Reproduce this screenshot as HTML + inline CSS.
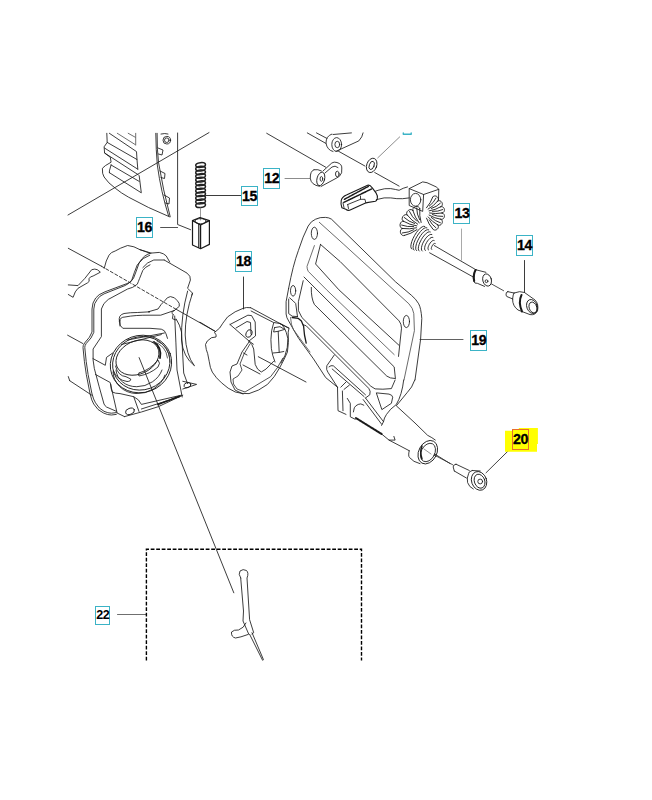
<!DOCTYPE html>
<html><head><meta charset="utf-8">
<style>
html,body{margin:0;padding:0;background:#fff;width:652px;height:800px;overflow:hidden}
svg{position:absolute;left:0;top:0}
.lb{position:absolute;box-sizing:border-box;border:1.5px solid #3bb3c6;background:#fff;font-family:"Liberation Sans",sans-serif;font-weight:bold;font-size:14.2px;line-height:18.5px;text-align:center;color:#000;letter-spacing:-0.4px;-webkit-text-stroke:0.3px #000}
</style></head><body>
<svg width="652" height="800" viewBox="0 0 652 800">
<g fill="none" stroke="#1a1a1a" stroke-width="0.85" stroke-linejoin="round" stroke-linecap="round">
<!-- top-left fins -->
<path d="M68,215 L209,132.6"/>
<path d="M177.6,133 L177.6,224.5 L190.6,229.7"/>
<path d="M106.8,133.3 L107.2,142.4 L104.1,146.8 L104.6,153 L110.3,157.3 L111.1,162.2 Q104,166 102.4,168.3 Q102,174 104.1,177 Q108,183 115.5,188.4 Q121,193 128.6,197.2 Q148,208 169.5,216.8"/>
<path d="M109.4,133.3 L136.5,151.6 L137,159.5 M107.2,142.4 L137,159.5 L137.8,169.2 M104.6,148.1 L137.8,169.2 M104.6,153 L138.3,174.8"/>
<path d="M117.3,133.3 L135.2,144.6 M128.2,133.3 L135.2,137.2 M135.7,133.3 L135.7,145" stroke="#555"/>
<path d="M111.1,164.8 L109.4,170.9 L109.4,172.7 M111.1,165 L139.2,181.4 M109.4,172.7 L141.3,192.8 L139.2,175.7"/>
<path d="M157.1,133.3 Q157,150 158.5,162.3 Q163,190 170.2,216.8"/>
<path d="M155.8,133.3 Q156,150 157.3,165 Q161,192 168.6,216"/>
<circle cx="166.8" cy="140.2" r="3.8"/>
<circle cx="166.8" cy="140.2" r="2.3"/>
<path d="M161,134 Q165,133 168,134"/>
<path d="M158,148 L163,150 L162,155 L158.5,154 M160,171 L165,173.5 L164.5,178.5 L161,177.5 M164,195 L169.5,198 L169,204 L165.5,203"/>
<!-- label leader lines -->
<path d="M160.6,227.5 L177.6,227.5" stroke="#333"/>
<path d="M205.5,195.5 L241,195.5"/>
<path d="M285,178.5 L310,178.5" stroke="#777"/>
<path d="M243.5,277 L243.5,309"/>
<path d="M461.5,229 L461.5,260" stroke="#999"/>
<path d="M524.5,260.5 L524.5,292.5"/>
<path d="M420,339.5 L463,339.5" stroke="#444"/>
<path d="M486,472.8 L508.8,450.3" stroke="#222"/>
<path d="M117.5,614.5 L146.3,614.5" stroke="#555"/>
<path d="M377.7,157.9 L399.7,136.9" stroke="#777"/>
<!-- top link -->
<path d="M307.3,132.9 L325.7,143.3 M316.5,132.9 L326.9,138.4"/>
<path d="M331.8,134.1 Q326,136 326,143 Q327,150 333,151.5"/>
<ellipse cx="336.7" cy="144.5" rx="4.9" ry="6.9"/>
<ellipse cx="337.3" cy="144.5" rx="2.4" ry="3.2"/>
<path d="M333,134.5 L351.4,132.9 M336,151.3 L358.8,140.9 Q362.5,137 363.1,132.9"/>
<path d="M338.6,151.3 L364.9,166"/>
<ellipse cx="371.7" cy="165.4" rx="5" ry="7.4" transform="rotate(20 371.7 165.4)"/>
<ellipse cx="371.7" cy="165.4" rx="2.4" ry="4.3" transform="rotate(20 371.7 165.4)"/>
<path d="M374.7,172.5 L399.1,186.1"/>
<!-- partial label top -->
<path d="M403.3,133 L403.3,134.3 L411.2,134.3 L411.2,133" stroke="#3bb3c6" stroke-width="1.4"/>
<!-- part 12 -->
<path d="M266.7,133.3 L325.7,167.2"/>
<path d="M314,169.7 Q310,171 310.3,178.3 Q311,185 319.5,186.3"/>
<path d="M314,169.7 Q318,169 321.4,170.9"/>
<ellipse cx="320.8" cy="178.9" rx="3.8" ry="6.9" transform="rotate(15 320.8 178.9)"/>
<ellipse cx="321.4" cy="178.9" rx="1.3" ry="2.4"/>
<path d="M323,171 L331.8,163 Q334,161.5 337,162.5 Q342,164 341.8,168 L341.6,172.8 Q340,177 336.1,178.3 L321,186.5"/>
<path d="M325,173 L332,167 Q335,165 338,167.5"/>
<ellipse cx="337.3" cy="174" rx="1.8" ry="2.8"/>
<!-- pedal -->
<path d="M341.2,200.6 Q342,197 346.4,195.1 L367.6,185.2 Q370,184.5 372.1,187.7 L376,192.9 Q378,196 377.3,198.7 Q376.5,201 375.4,201.3 L367,202.6 L365,203.2 L349.6,210.3 Q347,210.5 346.4,209.6 L341.9,207.7 Q340.5,204 341.2,200.6 Z" stroke-width="1.1"/>
<path d="M344.4,199.3 L368.3,186.4 M343.8,202.4 L371.5,189" stroke-width="1.5" stroke-dasharray="1.1 0.7"/>
<path d="M347.7,204.5 L360.5,199.3 L360.5,196.1 M360.5,199.3 L365,199.3 L365.7,202.6 M347.7,204.5 L348.5,208.5 M343,203 L344,207.5"/>
<path d="M375.5,191.2 L378,190.3 Q385,188 390.7,188.6 Q396,189.5 399.1,190.3 Q403,188 407.5,186.9"/>
<path d="M376.3,199.6 Q385,197 390.7,197.9 Q397,199 402.5,198.7 L409.2,197.9"/>
<!-- block -->
<path d="M409.2,188.6 L409.2,205.5 L422.7,211.4 L423.6,194.5 L409.2,188.6 L422.7,181.9 L427,182.7 L436.2,186.9 L438.8,189.3 L423.6,194.5"/>
<path d="M438.8,189.3 L438.5,200"/>
<ellipse cx="415.6" cy="199.8" rx="5.2" ry="6.4"/>
<!-- boot -->
<g stroke-width="0.9">
<path d="M426.5,207.8 Q430.7,203.0 432.8,197.0 M428.1,209.1 Q433.7,206.1 437.7,201.1 M429.1,210.9 Q435.4,210.0 440.9,206.7 M429.5,213.0 Q435.8,214.2 442.0,213.0 M429.1,215.1 Q434.6,218.4 440.9,219.3 M428.1,216.9 Q432.1,221.8 437.7,224.9 M426.5,218.2 Q428.5,224.2 432.8,229.0 M432.8,197.0 C435.1,193.5 440.6,198.2 437.7,201.1 M437.7,201.1 C441.0,198.7 444.7,205.0 440.9,206.7 M440.9,206.7 C444.9,205.6 446.1,212.7 442.0,213.0 M442.0,213.0 C446.1,213.3 444.9,220.4 440.9,219.3 M440.9,219.3 C444.7,221.0 441.0,227.3 437.7,224.9 M437.7,224.9 C440.6,227.8 435.1,232.5 432.8,229.0 M429.3,206.1 Q433.6,202.9 436.0,198.1 M431.3,208.5 Q436.5,207.0 440.4,203.2 M432.4,211.4 Q437.8,211.8 442.7,209.6 M432.4,214.6 Q437.3,216.7 442.7,216.4 M431.3,217.5 Q435.2,221.2 440.4,222.8 M429.3,219.9 Q431.7,224.7 436.0,227.9 "/>
<path d="M421.1,222.5 Q419.1,215.7 419.8,208.6 M419.2,223.0 Q414.8,217.4 412.9,210.6 M417.7,224.2 Q411.5,220.7 407.2,215.0 M416.8,225.9 Q409.7,224.9 403.5,221.3 M416.5,227.8 Q409.6,229.5 402.5,228.5 M417.0,229.6 Q411.2,233.8 404.3,235.5 M419.8,208.6 C419.1,204.5 411.3,206.7 412.9,210.6 M412.9,210.6 C410.7,207.1 404.3,212.1 407.2,215.0 M407.2,215.0 C403.8,212.6 399.7,219.6 403.5,221.3 M403.5,221.3 C399.5,220.3 398.4,228.4 402.5,228.5 M402.5,228.5 C398.4,229.1 400.4,237.0 404.3,235.5 M419.6,219.7 Q416.7,214.3 416.7,208.1 M416.7,221.1 Q411.9,217.2 409.5,211.5 M414.6,223.5 Q408.7,221.7 404.2,217.5 M413.6,226.5 Q407.4,227.2 401.6,225.1 M413.8,229.7 Q408.4,232.7 402.3,233.0 "/>
<path d="M431.8,249.5 L431.5,249.2 L431.3,248.8 L431.3,248.1 L431.5,247.4 L431.8,246.6 L432.2,245.8 L432.7,245.0 L433.2,244.3 L433.8,243.8 L434.4,243.5 L434.9,243.4 L435.2,243.5 M428.6,250.0 L428.2,249.6 L428.0,248.8 L428.0,247.8 L428.3,246.7 L428.8,245.4 L429.4,244.2 L430.2,243.0 L431.1,241.9 L431.9,241.1 L432.8,240.6 L433.5,240.4 L434.1,240.5 M425.4,250.5 L424.9,249.9 L424.6,248.9 L424.7,247.5 L425.0,245.9 L425.7,244.2 L426.6,242.5 L427.6,240.9 L428.8,239.5 L430.0,238.3 L431.1,237.6 L432.1,237.3 L432.9,237.5 M422.3,251.0 L421.6,250.2 L421.4,249.0 L421.5,247.3 L422.0,245.3 L422.8,243.2 L424.0,241.0 L425.3,238.9 L426.8,237.1 L428.2,235.7 L429.6,234.8 L430.8,234.4 L431.8,234.5 M419.3,251.0 L418.6,250.2 L418.3,248.8 L418.5,246.8 L419.1,244.5 L420.1,242.0 L421.4,239.5 L422.9,237.1 L424.6,235.0 L426.3,233.3 L427.9,232.2 L429.3,231.8 L430.3,232.0 M416.7,250.6 L415.9,249.7 L415.7,248.2 L415.9,246.1 L416.5,243.6 L417.6,240.9 L419.0,238.2 L420.7,235.5 L422.5,233.2 L424.3,231.4 L426.1,230.2 L427.5,229.7 L428.7,229.9 M414.1,250.1 L413.3,249.1 L413.1,247.5 L413.3,245.3 L414.0,242.6 L415.2,239.7 L416.7,236.8 L418.5,234.0 L420.4,231.6 L422.3,229.6 L424.1,228.3 L425.7,227.7 L426.9,227.9 M411.8,249.0 L411.1,248.1 L410.8,246.4 L411.1,244.2 L411.8,241.5 L413.0,238.5 L414.5,235.6 L416.3,232.7 L418.3,230.2 L420.2,228.2 L422.1,226.9 L423.6,226.3 L424.8,226.5 "/>
</g>
<!-- rod 13 -->
<path d="M434.2,245.5 L476,269.8 M429.6,252.8 L473.6,277.2"/>
<path d="M476,269.8 Q472,274 473.6,280.9 Q474.5,284 477.3,283.3 L484.6,286.4 M476,269.8 L485.9,272.3"/>
<path d="M475.5,270 Q473,275 474.2,281" stroke-width="2"/>
<ellipse cx="487.1" cy="280" rx="4.3" ry="6.2" transform="rotate(-15 487.1 280)"/>
<circle cx="486.5" cy="281.2" r="1.4"/>
<path d="M491.4,283.9 L503.6,290.7" stroke="#333"/>
<!-- part 14 -->
<path d="M508,291.5 Q505.5,292 506,295 Q506.5,297 508,297 L512.8,299 M507.5,291.6 L514,293"/>
<path d="M514,293 Q520,290.5 524.5,292.5 L535,300 Q539,304 537.5,311 Q535,315.5 530,314.6 L518,310 Q512.5,306 512.6,299 Q513,294 514,293"/>
<path d="M521.5,295 Q518,302 522,311.5" stroke-width="2"/>
<ellipse cx="532" cy="306.5" rx="5.2" ry="7.2" transform="rotate(-20 532 306.5)"/>
<ellipse cx="533" cy="307.5" rx="3.8" ry="5.6" transform="rotate(-20 533 307.5)"/>
<!-- plate 19 -->
<path d="M288.6,288.5 Q293,265 298.4,250.5 Q303,236 308.2,226 Q311,221 315.6,219.2 Q320,217 325.4,217.4 Q329,217.5 331.5,219.2 L395.4,281.7 L411.3,295.2 Q416,299 418.7,303.8 Q421,308 421.8,318.5 L420.6,339.3 L415,380"/>
<path stroke="#444" stroke-width="0.8" d="M319.3,222.3 L343.8,244.4 L408.9,303.8 Q413,308 413.8,313.6 L414.4,330.7 L404,380"/>
<ellipse cx="314.4" cy="233.3" rx="3.1" ry="6.1"/>
<ellipse cx="406.4" cy="321.5" rx="3.1" ry="6.1"/>
<ellipse cx="293.1" cy="290.8" rx="2.6" ry="5.3"/>
<!-- slot 1 -->
<path d="M320.5,244.4 L340.1,261.5 L399.1,320.9 Q401.5,324 401.5,328.2 L398.5,356.4"/>
<path d="M320.5,244.4 L315.6,264 L338.9,289.8 L399.1,345.4"/>
<path d="M314.4,245.6 L307,266.4 Q307,269 308.2,271.3 L326.6,289.8 L394.2,354.6" stroke="#555"/>
<!-- slot 2 -->
<path d="M304,277 L394.2,366.9 L395.4,378.5"/>
<path d="M311.3,287.4 Q311,298 314.4,304.5 L386.8,376.1 Q390,378.5 394.8,378.5"/>
<!-- handle lower -->
<path d="M288.6,288.5 L286.1,301.7 L286.1,314 Q286.5,318 288.7,321 L296.6,335 L298.8,338.6 L313.5,358.9 L325.7,377.6 L337.5,387.2"/>
<path d="M290.5,317.5 Q291,325 293.3,329.4 L303.4,343.2 L310,352" stroke="#555"/>
<path d="M292.2,317.5 L298.4,318.4 L301.4,321 L303.6,326.2 L304.5,335 L306.2,343.2" stroke-width="1.3"/>
<path d="M289.6,297.8 L293.1,300.9 L295.7,303.5 L297.5,316.6 M288.7,299.1 L288.7,313.6 L292.2,316.2 L297.5,316.6"/>
<path d="M303.2,280.7 L298.4,301.7 L298.4,310.5 L301.9,317.5 L370.8,386.2 L375.1,388.9 L382.9,389.2 L391.4,388.6 L395.1,380"/>
<path d="M303.4,324.8 L306.2,325.8 L368.7,388.3 Q371,391 369.8,394.8 L365.5,398"/>
<path d="M334.3,355 L326.8,365.8 Q326,370 327.9,372.2 L337.5,387.2"/>
<path d="M329,366.8 Q331,365 333.3,365.8 L365.5,394.8 M332.2,369 L364,396.5"/>
<path d="M340.8,387.2 L346.1,381.9 M344,389.4 L349.4,385.1"/>
<path d="M337.5,387.4 L338,410.7 L346,414.4 M342.4,391 L343,410.7 M347.3,398.4 L350.3,403.3 L350.3,416.8 L355.2,419.3"/>
<path d="M353.4,411.9 Q354,406.5 355.9,405.8 Q358,404 360.8,403.9 L363.8,405.2"/>
<path d="M363.2,399.6 L381.6,424.2 M365.5,398 L383.5,421.7"/>
<path d="M376.7,392.9 L389,394.1 Q392.5,395 392.7,397.2 L391.4,403.3 L382.2,409.4 Z"/>
<path d="M403.7,380 Q402,395 396.3,404.5 Q390,409 386.5,414.4 Q384,418 383.5,421.7 L381.6,425.4"/>
<path d="M414.8,380 Q412,388 407.4,392.3 L396.3,405.8 L415,423 L427.6,435.3 Q432,437.5 435.3,440"/>
<path d="M355.9,418 L381.6,434" stroke-width="2" stroke-dasharray="1.6 0.6"/>
<path d="M381.6,434 L389,440.1 L395.1,440.1 L393.9,436.4"/>
<path d="M389,440.1 L409.2,450.7"/>
<path d="M409.2,450.7 Q408,456 409.5,457.5 Q413,462 420,463.7"/>
<ellipse cx="427.8" cy="452.2" rx="9" ry="12.4" transform="rotate(28 427.8 452.2)"/>
<ellipse cx="428" cy="452.5" rx="6.8" ry="9.8" transform="rotate(28 428 452.5)" stroke-width="0.8"/>
<path d="M422,446 Q419.5,452 422,459" stroke-width="1.5"/>
<path d="M424,449 L431,454" stroke="#666" stroke-width="0.7"/>
<path d="M434.5,453.9 L450,463.5"/>
<!-- bolt 20 -->
<path d="M434.2,455 L452.6,464.7" stroke="#333"/>
<path d="M456,464.2 L469.3,470.5 M454.3,471 L466.4,478 M456,464.2 Q452.5,465 453.2,467 L454.3,471"/>
<path d="M472.2,470.5 Q468,472 468.7,473.4 Q466.5,478 467.6,482.6 Q469,487 473.3,489 M472.2,470.5 L480.2,471"/>
<ellipse cx="479.1" cy="480.9" rx="7.5" ry="9.6" transform="rotate(-20 479.1 480.9)"/>
<ellipse cx="479.6" cy="481.2" rx="5.2" ry="7.2" transform="rotate(-20 479.6 481.2)"/>
<circle cx="480.2" cy="481.5" r="2.4"/>
<!-- housing -->
<path d="M68.3,248.3 L101.4,266.2"/>
<path d="M101.4,266.2 L176.5,309.5" stroke-dasharray="3 2.2"/>
<path d="M176.5,309.5 L215.3,331.4"/>
<path d="M104.2,268.3 Q106,260 109,255.2 Q111,252 115.2,251 Q120,248 127.6,245.5 Q134,246 140,249.7 L149.7,253.1"/>
<path d="M68.3,284.9 L78,285.6 Q85,279 91.7,269.7 Q95,268.5 97.3,269.7 L100,271.8"/>
<path d="M68.3,294.5 L73.1,297.3 Q75,291 78,288.3 L87.6,282.8 Q90,282 89,278.7 Q90,276.5 93.1,276 L100,272.4"/>
<path d="M149.7,255.2 Q143,257 137.3,264.8 Q134,273 131.8,280 Q129,284 124.9,285.6 L104.2,293.8 Q99,296 97.3,299.4 Q94,303 93.8,309 L93.8,332.4 Q92,338 86.2,343.5 Q84.5,346 84.8,347.6 L86.2,361.4 L88.1,374.5 L91.8,393 Q93.5,400 95.5,402.8 Q99,409 104,411.3 Q108,413.2 111.4,413.2 L116.3,412.6 L124.5,416.6"/>
<path d="M151,253.1 Q144,254.5 139.3,262.5 Q136,272 133.6,278 Q131,283 126.9,283.6 L105,291.8 Q98,294.5 95.7,298 Q92.2,302.5 92,309 L92,332 Q90.5,337 84.6,343 Q82.8,345.5 83,347.6 L84.4,361.4 L86.3,374.5 L90,393.5 Q91.7,401 93.7,404 Q97.5,410.5 103.5,413 Q107.5,415 111.4,415 L116.3,414.4"/>
<path d="M140,249.7 Q148,252 151,253.1 L159.3,252.4 Q164,253.5 166.2,255.9 L169.7,262"/>
<path d="M164.2,260 L187,273.1 Q191,276 190.4,280 L187.6,288.3 L192.5,293.1 L191.8,295.2"/>
<path d="M192.5,293.1 Q185,315 185.2,335 Q186,355 194.2,365.5 M187.6,291.1 Q181,315 181.5,340 Q183,357 194.2,365.5"/>
<path d="M150,264.8 Q145,267 142.8,270.4 Q139,280 137.3,284.2 Q133,288 127.6,289 L108.3,299.4 Q103,303 101.4,309 L101.4,336.6 L93.1,349 L93.1,360 L94.3,368.4 L99.2,386.8 L104,404 Q105,406 106.5,407 L116.3,411.3"/>
<path d="M142.8,267.6 Q147,262 153.8,260 L164.2,260"/>
<path d="M119.4,321.4 Q118,315 124,313.5 Q130,312.5 137.3,312.5 L150,311.8 L148.3,311.8 L158,309 Q161,304 164.8,300.7 Q167,297 170.4,296.6 Q175,297 177.3,300.7 Q180,303 179.3,306.3 L174.5,310.4 L160.7,315.2 L150,315.2 Q135,315 125,317 Q120,317 119.4,321.4 Q119,325.5 122.8,328.3 L150,328.3 L161.3,329.2 Q165,330 166,333.8 L167.5,338.4"/>
<path d="M173.1,314.5 L172.4,318.7 L175.9,320 M174.5,310.4 Q170,312 173.1,314.5"/>
<path d="M120,320 L120,326"/>
<path d="M67.6,335.2 L82.8,343.5 M69.7,380.7 L91.8,395.2 M68.3,376.6 L69.7,380.7"/>
<path d="M93,358.6 L105.3,365.3 L106.5,357.4 L112.7,353 M95.5,374.5 L110.2,382.5 L117,412.6"/>
<path d="M121.5,344.5 L161.3,334.6 M127.6,340 L164.4,333"/>
<ellipse cx="141" cy="364" rx="31" ry="28.5" transform="rotate(-20 141 364)"/>
<ellipse cx="141.3" cy="363.3" rx="29" ry="26.5" transform="rotate(-20 141.3 363.3)"/>
<path d="M113,372 A27,24 -20 0 0 165,375" />
<path d="M116,370 A24,20 -20 0 0 162,370" />
<ellipse cx="137.5" cy="357.5" rx="22.5" ry="16.5" transform="rotate(-25 137.5 357.5)"/>
<path d="M154,342 Q162,347 160,358" stroke-width="1.8"/>
<path d="M153,341.5 Q166,345 167.5,358 M157,341 Q170,346 170,362" stroke="#444"/>
<path d="M115.5,366 Q118,376 126,376.7 L130.7,379 Q131,381.5 127,381.5 Q117,380 113.5,371"/>
<path d="M139,373 Q150,370 158,360 Q161,363 158,367 Q150,374 139,376 Q137.5,374.5 139,373"/>
<path d="M110.7,384.4 Q111,390 112.3,392 Q115,393.5 120,393.6 L133.7,396.7 L138.3,399.8 L141.4,404.4 L181.3,395.2"/>
<path d="M133.7,396.7 L139,411.5"/>
<path d="M174.7,316 Q176,343 177,370 L182.2,397 M176.2,319 Q180,325 181.5,332 L183.7,373 L187.5,383.5"/>
<path d="M182.8,381.3 L196.6,384.4 L182.8,389"/>
<ellipse cx="187.4" cy="385.2" rx="3.5" ry="2.5" transform="rotate(-20 187.4 385.2)"/>
<path d="M124.5,416.6 L141.4,412 L158.3,406.7 L182.8,395.2"/>
<path d="M141.4,409 L179.8,396.7"/>
<path d="M158,404.5 L180,396" stroke-width="1.6" stroke-dasharray="1.2 0.8"/>
<ellipse cx="130" cy="411.3" rx="4.6" ry="3" transform="rotate(-20 130 411.3)"/>
<path d="M139.1,357.6 L233.8,592.8"/>
<!-- part 18 -->
<path d="M250.6,307.7 Q246,307 243,308.4 Q235,311 227.6,316.9 Q222,324 219.7,328 L214.5,332.5 Q217,335 216,337 L211.5,337.7 Q206,341 205.5,344.5 Q206,350 207.7,353.7 L209.2,361.3 Q210,368 212.3,372.1 Q216,378 221.5,382.8 Q228,389 235.3,392 Q242,394 249,393.6 Q259,391 267.5,384.4 Q275,377 279.8,367.5 Q284,360 287.4,352.1 Q289,343 288.2,332.2 L289,328.4 L250.6,307.7"/>
<path d="M251.1,311 L273.6,322.5 L280,323.5 L289,328"/>
<path d="M230,324.5 L247.9,315.2 L251.6,315.6 L255.2,322 L255.5,335.9 L249,341 M236,328 L247,321.5 L250.5,322.5 L251,334"/>
<path d="M230,324.5 L249,341 L253.4,344.2"/>
<ellipse cx="249" cy="333.5" rx="2.8" ry="4" transform="rotate(25 249 333.5)"/>
<path d="M273.6,323 Q271,330 270.9,339.6 Q271,350 272.7,355.2 L275,362 M280,323.5 Q285,325 287.9,338.6 Q288,348 285.1,355.2 L281,363"/>
<path d="M274.6,327.6 L280,326.7 L284.7,329.4 L278.2,331.3 L279.2,352.4 L283.8,351.5 M274.6,327.6 L273.6,332 L278.2,331.3 M273,353 L279.2,352.4"/>
<path d="M249,341.4 Q252.5,344 253.7,349 L255.2,364.4 Q257,370 261.3,372 Q266,370 270.6,364.4 L273.6,361.3"/>
<path d="M249,342 L242,352 L237,364 L232,366 L230,372 L231,382 L235,390 L243,394"/>
<path d="M250,344 L244,354 L240,364 L242,370 L238,376 L233,379 L233.5,384 L237,389 L245,392 L270.6,376.7 Q278,368 282.8,358.3" stroke-width="0.75"/>
<path d="M243,365 L260,374"/>
<path d="M243.5,353 L247,355"/>
<path d="M200,322.2 L215.3,331.4"/>
<path d="M258.3,356.7 L306,382"/>
<!-- dashed box 22 -->
<path d="M146.4,660.5 L146.4,549.3 L361.5,549.3 L361.5,660.5" stroke="#000" stroke-width="1.4" stroke-dasharray="3.8 1.7" stroke-linecap="butt" stroke-linejoin="miter"/>
<!-- wire 22 -->
<path d="M240.7,578 Q238,574 240,571 Q243,568.5 246.5,570.5 Q249,573 247,578 L249.6,619.7 L253.7,632.7 L252,634"/>
<path d="M240.7,578 L243.5,611 L243,621 L248.8,634.3"/>
<path d="M246,623 Q244,628 238.5,630 Q234,629.5 231.5,632 Q231,637 235.5,638 Q240,637.5 248,634.5"/>
<path d="M249.6,634.3 L262.6,660.3 M252,632.7 L263.4,659.5"/>
<!-- spring 15 -->
<g stroke-width="1.5" stroke="#222">
<ellipse cx="200.6" cy="165.00" rx="4.9" ry="2.3" transform="rotate(-6 200.6 165.00)"/>
<ellipse cx="200.6" cy="168.65" rx="4.9" ry="2.3" transform="rotate(-6 200.6 168.65)"/>
<ellipse cx="200.6" cy="172.30" rx="4.9" ry="2.3" transform="rotate(-6 200.6 172.30)"/>
<ellipse cx="200.6" cy="175.95" rx="4.9" ry="2.3" transform="rotate(-6 200.6 175.95)"/>
<ellipse cx="200.6" cy="179.60" rx="4.9" ry="2.3" transform="rotate(-6 200.6 179.60)"/>
<ellipse cx="200.6" cy="183.25" rx="4.9" ry="2.3" transform="rotate(-6 200.6 183.25)"/>
<ellipse cx="200.6" cy="186.90" rx="4.9" ry="2.3" transform="rotate(-6 200.6 186.90)"/>
<ellipse cx="200.6" cy="190.55" rx="4.9" ry="2.3" transform="rotate(-6 200.6 190.55)"/>
<ellipse cx="200.6" cy="194.20" rx="4.9" ry="2.3" transform="rotate(-6 200.6 194.20)"/>
<ellipse cx="200.6" cy="197.85" rx="4.9" ry="2.3" transform="rotate(-6 200.6 197.85)"/>
<ellipse cx="200.6" cy="201.50" rx="4.9" ry="2.3" transform="rotate(-6 200.6 201.50)"/>
<ellipse cx="200.6" cy="205.15" rx="4.9" ry="2.3" transform="rotate(-6 200.6 205.15)"/>
</g>
<path d="M200.5,208 L200.5,220" stroke="#888"/>
<!-- part 16 -->
<path d="M192.5,220.6 L200,217.5 L209.4,220.6 L200.6,225 Z" stroke-width="1.2"/>
<ellipse cx="200.6" cy="221.2" rx="5.5" ry="2.6"/>
<path d="M192.5,220.6 L192.5,245 L200.6,248.75 L209.4,244.4 L209.4,220.6 M200.6,225 L200.6,248.75 M198.8,224 L198.8,247.5" stroke-width="1.2"/>
</g>
</svg>
<div class="lb" style="left:263.2px;top:168.2px;width:16.6px;height:20.4px">12</div>
<div class="lb" style="left:241px;top:185.8px;width:16.5px;height:20.6px">15</div>
<div class="lb" style="left:136px;top:217px;width:16.5px;height:20.8px">16</div>
<div class="lb" style="left:235.1px;top:251.3px;width:16.8px;height:20.5px">18</div>
<div class="lb" style="left:453.4px;top:203px;width:16.9px;height:20.7px">13</div>
<div class="lb" style="left:516px;top:234.6px;width:16.5px;height:21px">14</div>
<div class="lb" style="left:470.2px;top:330px;width:16.5px;height:20.8px">19</div>
<svg width="652" height="800" style="position:absolute;left:0;top:0"><polygon points="505,430.7 512.3,430.7 512.3,429 518.8,429 518.8,427.9 537.9,427.9 537.9,443.9 537,443.9 537,451.8 505,451.8" fill="#ffff00"/></svg>
<div class="lb" style="left:512px;top:429px;width:17px;height:20.5px;border-color:#e8702a;background:transparent">20</div>
<div class="lb" style="left:95.2px;top:606.3px;width:14.6px;height:18.4px;line-height:16.5px;letter-spacing:-0.5px;font-size:12.6px;-webkit-text-stroke:0">22</div>
</body></html>
